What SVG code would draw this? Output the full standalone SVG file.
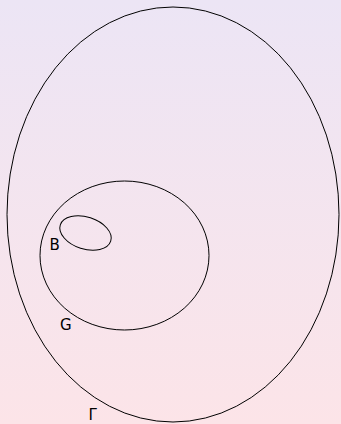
<svg xmlns="http://www.w3.org/2000/svg" width="341" height="424" viewBox="0 0 341 424">
<defs>
<linearGradient id="bg" x1="0" y1="0" x2="0" y2="1">
<stop offset="0" stop-color="#ECE5F5"/>
<stop offset="1" stop-color="#FCE4E8"/>
</linearGradient>
<style>
.set{fill:none;stroke:#000;stroke-width:1}
.lbl{font-family:"DejaVu Sans",sans-serif;font-size:15px;font-weight:normal;fill:#000}
</style>
</defs>
<rect width="341" height="424" fill="url(#bg)"/>
<g id="Gamma">
<ellipse class="set" cx="173" cy="214.5" rx="166" ry="207.5"/>
<text class="lbl" x="88.5" y="420">Γ</text>
</g>
<g id="G">
<ellipse class="set" cx="124.5" cy="255.5" rx="84.5" ry="74.5"/>
<text class="lbl" x="60" y="329.5">G</text>
</g>
<g id="B">
<ellipse class="set" cx="85.5" cy="233" rx="26.5" ry="16" transform="rotate(18 85.5 233)"/>
<text class="lbl" x="49.5" y="250">B</text>
</g>
<g id="connectors"/>
</svg>
